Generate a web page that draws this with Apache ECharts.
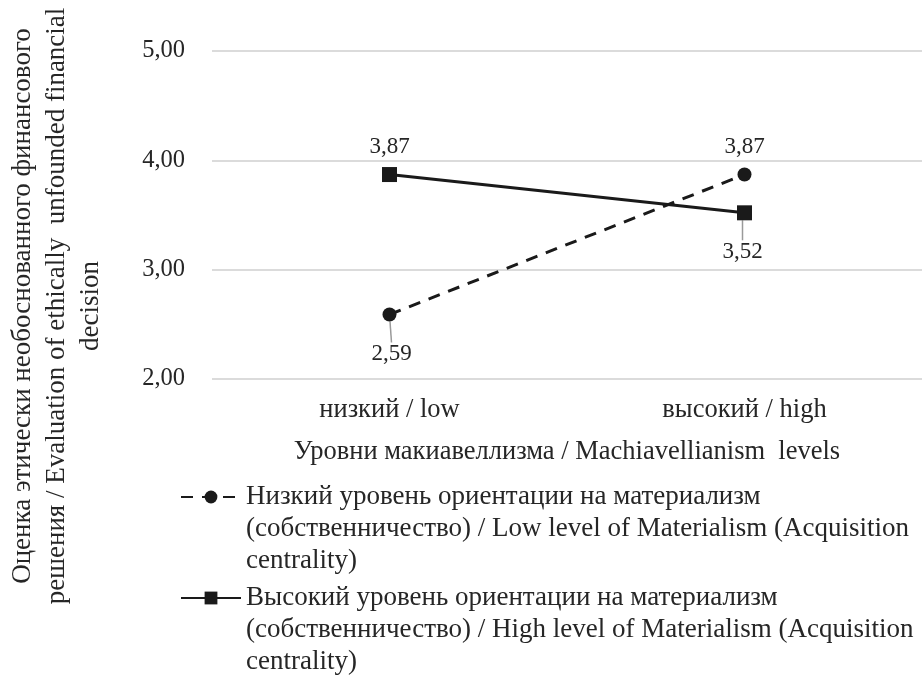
<!DOCTYPE html>
<html><head><meta charset="utf-8">
<script src="https://cdn.jsdelivr.net/npm/echarts@6/dist/echarts.min.js"></script>
<style>html,body{margin:0;padding:0;background:#fff}#c{width:922px;height:675px}</style>
</head><body><div id="c"></div>
<script>
const categories = ['низкий / low', 'высокий / high'];
const lowMaterialism = [2.59, 3.87];
const highMaterialism = [3.87, 3.52];
const seriesNames = [
  'Низкий уровень ориентации на материализм\n(собственничество) / Low level of Materialism (Acquisition\ncentrality)',
  'Высокий уровень ориентации на материализм\n(собственничество) / High level of Materialism (Acquisition\ncentrality)'
];
const yTitle = 'Оценка этически необоснованного финансового\nрешения / Evaluation of ethically  unfounded financial\ndecision';
const xTitle = 'Уровни макиавеллизма / Machiavellianism  levels';
// index of the point whose label sits below the marker, per series
const labelBelow = [0, 1];

const FONT = '"Liberation Serif", "DejaVu Serif", serif';
const TXT = '#262626';
const fmt = p => p.value.toFixed(2).replace('.', ',');

function seriesData(values, below) {
  return values.map((v, i) => ({ value: v, labelLine: { show: i === below } }));
}

const chart = echarts.init(document.getElementById('c'));
chart.setOption({
  backgroundColor: '#fff',
  animation: false,
  textStyle: { fontFamily: FONT },
  grid: { left: 212, right: -2, top: 51, height: 328 },
  xAxis: {
    type: 'category', data: categories, boundaryGap: true,
    axisLine: { show: false }, axisTick: { show: false },
    axisLabel: { fontFamily: FONT, fontSize: 26.5, color: TXT, margin: 18 },
    name: xTitle, nameLocation: 'middle', nameGap: 60,
    nameTextStyle: { fontFamily: FONT, fontSize: 26.5, color: TXT }
  },
  yAxis: {
    type: 'value', min: 2, max: 5, interval: 1,
    axisLine: { show: false }, axisTick: { show: false },
    axisLabel: { fontFamily: FONT, fontSize: 24.5, color: TXT, margin: 27,
      formatter: v => v.toFixed(2).replace('.', ',') },
    splitLine: { lineStyle: { color: '#cfcfcf', width: 1.5 } }
  },
  graphic: [{
    type: 'text', x: 57, y: 306, rotation: Math.PI / 2,
    style: { text: yTitle, fontFamily: FONT, fontSize: 27, fill: TXT,
      align: 'center', verticalAlign: 'middle', lineHeight: 34 }
  }],
  legend: [0, 1].map(i => ({
    data: [seriesNames[i]], orient: 'vertical', left: 180, top: i === 0 ? 417 : 518,
    padding: 0,
    itemWidth: 60, itemHeight: 16, itemGap: 0,
    formatter: name => '{p| }\n' + name.split('\n').map(s => '{t|' + s + '}').join('\n'),
    textStyle: {
      fontFamily: FONT, fontSize: 27, color: TXT,
      rich: {
        p: { fontSize: 2, height: 64, lineHeight: 64 },
        t: { fontFamily: FONT, fontSize: 27, color: TXT, lineHeight: 32 }
      }
    }
  })),
  series: [
    {
      name: seriesNames[0], type: 'line', data: seriesData(lowMaterialism, labelBelow[0]),
      symbol: 'circle', symbolSize: 14,
      itemStyle: { color: '#1a1a1a' },
      lineStyle: { color: '#1a1a1a', width: 3, type: [12, 9] },
      label: { show: true, formatter: fmt, fontFamily: FONT, fontSize: 23, color: TXT, position: 'top', distance: 9 },
      labelLine: { show: false, lineStyle: { color: '#9a9a9a', width: 1.5 } },
      labelLayout: p => p.dataIndex === labelBelow[0] ? { dy: 67, dx: 2 } : {}
    },
    {
      name: seriesNames[1], type: 'line', data: seriesData(highMaterialism, labelBelow[1]),
      symbol: 'rect', symbolSize: 15,
      itemStyle: { color: '#1a1a1a' },
      lineStyle: { color: '#1a1a1a', width: 3 },
      label: { show: true, formatter: fmt, fontFamily: FONT, fontSize: 23, color: TXT, position: 'top', distance: 9 },
      labelLine: { show: false, lineStyle: { color: '#9a9a9a', width: 1.5 } },
      labelLayout: p => p.dataIndex === labelBelow[1] ? { dy: 67, dx: -2 } : {}
    }
  ]
});
</script></body></html>
